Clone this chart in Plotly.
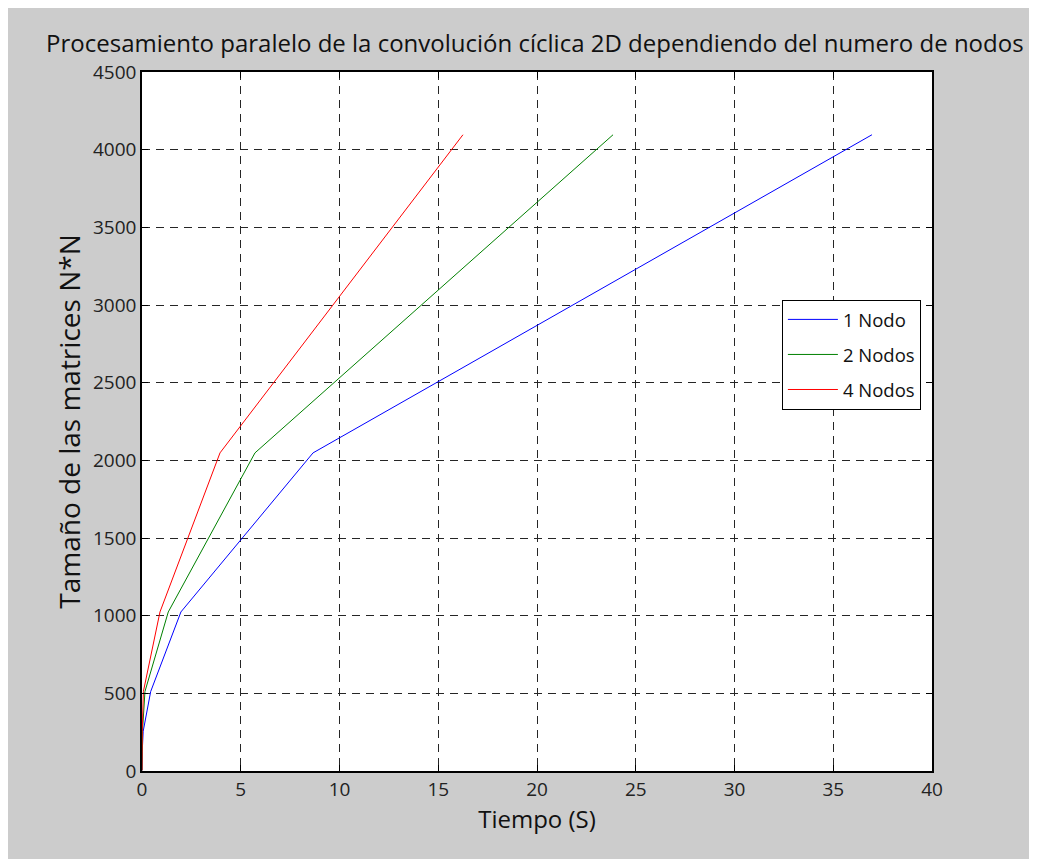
import plotly.graph_objects as go

# Matrix sizes N (y values)
tamanos = [4, 8, 16, 32, 64, 128, 256, 512, 1024, 2048, 4096]
# Times in seconds (x values) per number of nodes
tiempo_1_nodo = [0.0, 0.0, 0.0, 0.001, 0.003, 0.012, 0.06, 0.44, 1.97, 8.66, 36.96]
tiempo_2_nodos = [0.0, 0.0, 0.0, 0.001, 0.002, 0.006, 0.025, 0.15, 1.33, 5.72, 23.85]
tiempo_4_nodos = [0.0, 0.0, 0.0, 0.0, 0.001, 0.003, 0.012, 0.07, 0.91, 3.95, 16.25]

series = [
    ("1 Nodo", tiempo_1_nodo, "#0000ff"),
    ("2 Nodos", tiempo_2_nodos, "#008000"),
    ("4 Nodos", tiempo_4_nodos, "#ff0000"),
]

x_ticks = [0, 5, 10, 15, 20, 25, 30, 35, 40]
y_ticks = [0, 500, 1000, 1500, 2000, 2500, 3000, 3500, 4000, 4500]

fig = go.Figure()
for name, t, color in series:
    fig.add_trace(go.Scatter(x=t, y=tamanos, mode="lines", name=name, legendgroup=name,
                             line=dict(color=color, width=1)))

font_main = "Open Sans"
axis_common = dict(
    showgrid=True, gridcolor="#262626", gridwidth=1, griddash="8px,6px",
    showline=True, linecolor="black", linewidth=1.5, mirror="allticks",
    ticks="inside", ticklen=6, tickcolor="black", zeroline=False,
    tickfont=dict(family=font_main, size=19, color="#222222"),
)

fig.update_layout(
    width=1023, height=851,
    paper_bgcolor="#cccccc", plot_bgcolor="white",
    margin=dict(l=134, r=99, t=64, b=88),
    showlegend=True,
    title=dict(text="Procesamiento paralelo de la convolución cíclica 2D dependiendo del numero de nodos",
               x=0.515, xanchor="center", y=0.9577, yanchor="middle",
               font=dict(family=font_main, size=24, color="#111111")),
    xaxis=dict(range=[0, 40], tickvals=x_ticks, ticktext=[str(v) for v in x_ticks],
               title=dict(text="Tiempo (S)", font=dict(family=font_main, size=24, color="#111111"),
                          standoff=10),
               **axis_common),
    yaxis=dict(range=[0, 4500], tickvals=y_ticks, ticktext=[str(v) for v in y_ticks],
               title=dict(text="Tamaño de las matrices N*N", font=dict(family=font_main, size=28, color="#111111"),
                          standoff=4),
               **axis_common),
    legend=dict(x=0.81, xanchor="left", y=0.674, yanchor="top",
                bgcolor="white", bordercolor="black", borderwidth=1,
                font=dict(family=font_main, size=18.5, color="#111111"),
                traceorder="grouped", tracegroupgap=8, itemwidth=50),
)

fig.write_html("out.html")
